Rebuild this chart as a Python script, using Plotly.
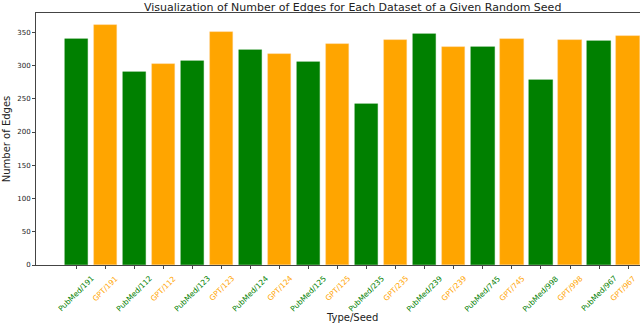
import plotly.graph_objects as go

seeds = ['191', '112', '123', '124', '125', '235', '239', '745', '998', '967']
pubmed_edges = [340, 291, 307, 324, 305, 242, 347, 328, 278, 337]
gpt_edges = [361, 302, 351, 318, 333, 338, 328, 340, 338, 344]

labels = []
values = []
colors = []
for s, p, g in zip(seeds, pubmed_edges, gpt_edges):
    labels += ['PubMed/' + s, 'GPT/' + s]
    values += [p, g]
    colors += ['green', 'orange']

idx = list(range(len(labels)))

fig = go.Figure()
fig.add_traces(go.Bar(x=idx, y=values, marker_color=colors, width=0.8,
                      marker_line_width=0.6,
                      marker_line_color=['rgba(0,128,0,0.45)' if c == 'green' else 'rgba(255,200,120,0.6)' for c in colors],
                      name=''))

# rotated, coloured category labels centred under each tick (like matplotlib ha='center')
for i, (t, c) in enumerate(zip(labels, colors)):
    fig.add_annotation(text=t, x=i, y=0, xref='x', yref='paper', yshift=-6,
                       xshift=-5 if i == len(labels) - 1 else 0,  # keep last label inside the page
                       xanchor='center', yanchor='top', textangle=-45,
                       showarrow=False, font=dict(size=7.5, color=c))

fig.update_layout(width=640, height=324, template='simple_white',
                  margin=dict(l=36, r=0, t=13, b=59, autoexpand=False),
                  font=dict(family='DejaVu Sans', size=8, color='#222'),
                  showlegend=False, bargap=0)
fig.add_annotation(text='Visualization of Number of Edges for Each Dataset of a Given Random Seed',
                   xref='paper', yref='paper', x=(352 - 36) / 604, y=1, yshift=6,
                   xanchor='center', yanchor='middle', showarrow=False,
                   font=dict(size=11, color='#222'))
fig.add_annotation(text='Type/Seed', xref='paper', yref='paper', x=(352 - 36) / 604, y=0,
                   yshift=-52, xanchor='center', yanchor='middle', showarrow=False,
                   font=dict(size=10, color='#222'))
fig.update_xaxes(range=[-1.39, 19.41], tickmode='array', tickvals=idx, showticklabels=False,
                 ticks='outside', ticklen=3, tickcolor='#444',
                 showline=True, linecolor='#444', linewidth=0.8, mirror=True)
fig.update_yaxes(range=[0, 379], tickvals=[0, 50, 100, 150, 200, 250, 300, 350],
                 ticks='outside', ticklen=3, tickcolor='#444',
                 showline=True, linecolor='#444', linewidth=0.8, mirror=False,
                 tickfont=dict(size=7), automargin=False,
                 title=dict(text='Number of Edges', font=dict(size=10), standoff=4))

fig.write_html("out.html", post_script="document.body.style.margin='0';",
               config={'displayModeBar': False})
